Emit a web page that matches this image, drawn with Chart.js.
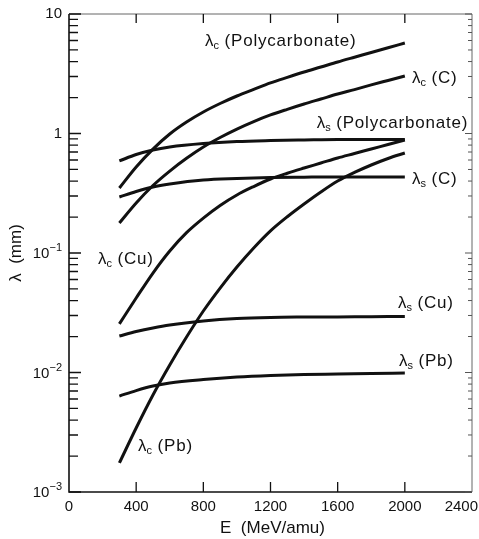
<!DOCTYPE html>
<html><head><meta charset="utf-8">
<script src="https://cdn.jsdelivr.net/npm/chart.js@4/dist/chart.umd.min.js"></script>
<style>html,body{margin:0;padding:0;background:#fff;overflow:hidden}#wrap{width:479px;height:539px;position:relative}</style>
</head><body><div id="wrap"><canvas id="c" width="479" height="539"></canvas></div>
<script>
// Energy grids (MeV/amu)
const energiesFine   = [300, 400, 500, 600, 700, 800, 900, 1000, 1100, 1200, 1300, 1400, 1500, 1600, 1700, 1800, 1900, 2000];
const energiesCoarse = [300, 400, 500, 600, 800, 1000, 1200, 1400, 1600, 1800, 2000];
// lambda_c values (mm), read on the fine grid
const lambdaCPoly = [0.350, 0.525, 0.741, 0.991, 1.248, 1.514, 1.782, 2.06, 2.34, 2.65, 2.95, 3.27, 3.60, 3.97, 4.35, 4.76, 5.22, 5.72];
const lambdaCC    = [0.178, 0.262, 0.367, 0.485, 0.620, 0.771, 0.926, 1.09, 1.259, 1.43, 1.594, 1.766, 1.944, 2.14, 2.33, 2.55, 2.78, 3.03];
const lambdaCCu   = [0.0255, 0.0420, 0.0680, 0.104, 0.148, 0.196, 0.250, 0.306, 0.360, 0.416, 0.465, 0.514, 0.566, 0.624, 0.680, 0.742, 0.809, 0.883];
const lambdaCPb   = [0.00175, 0.00343, 0.00648, 0.01156, 0.0198, 0.0327, 0.0509, 0.0763, 0.110, 0.153, 0.201, 0.257, 0.324, 0.400, 0.472, 0.545, 0.618, 0.687];
// lambda_s values (mm), read on the coarse grid
const lambdaSPoly = [0.589, 0.667, 0.728, 0.771, 0.824, 0.857, 0.873, 0.883, 0.891, 0.891, 0.891];
const lambdaSC    = [0.294, 0.327, 0.357, 0.378, 0.408, 0.420, 0.428, 0.431, 0.433, 0.433, 0.433];
const lambdaSCu   = [0.0202, 0.0220, 0.0236, 0.0250, 0.0270, 0.0283, 0.0289, 0.0291, 0.0292, 0.0293, 0.0294];
const lambdaSPb   = [0.00635, 0.00706, 0.00771, 0.00817, 0.00873, 0.00916, 0.00944, 0.00962, 0.00971, 0.00981, 0.0099];

const xTickValues = [0, 400, 800, 1200, 1600, 2000, 2400];
const yDecadeExponents = [-3, -2, -1, 0, 1];
const xTitle = 'E  (MeV/amu)';
const yTitle = 'λ  (mm)';

// curve labels: symbol, subscript, text, anchor E, anchor lambda
const labelSymbols = ['λ', 'λ', 'λ', 'λ', 'λ', 'λ', 'λ', 'λ'];
const labelSubs    = ['c', 'c', 's', 's', 'c', 's', 's', 'c'];
const labelTexts   = [' (Polycarbonate)', ' (C)', ' (Polycarbonate)', ' (C)', ' (Cu)', ' (Cu)', ' (Pb)', ' (Pb)'];
const labelE       = [810, 2043, 1475, 2043, 173, 1959, 1965, 411];
const labelLambda  = [6.05, 2.97, 1.25, 0.425, 0.0908, 0.0389, 0.01274, 0.00247];

const series = [
  [energiesFine, lambdaCPoly], [energiesFine, lambdaCC], [energiesFine, lambdaCCu], [energiesFine, lambdaCPb],
  [energiesCoarse, lambdaSPoly], [energiesCoarse, lambdaSC], [energiesCoarse, lambdaSCu], [energiesCoarse, lambdaSPb]
];

const FONT = '"Liberation Sans", Arial, Helvetica, sans-serif';
const INK = '#111';

const decorPlugin = {
  id: 'decor',
  afterDraw(chart) {
    const ctx = chart.ctx;
    const a = chart.chartArea;
    const xs = chart.scales.x, ys = chart.scales.y;
    ctx.save();
    ctx.strokeStyle = INK;
    ctx.fillStyle = INK;
    // frame: left & bottom solid, top & right lighter
    ctx.lineWidth = 1.6;
    ctx.beginPath();
    ctx.moveTo(a.left, a.top); ctx.lineTo(a.left, a.bottom); ctx.lineTo(a.right, a.bottom);
    ctx.stroke();
    ctx.strokeStyle = '#666';
    ctx.lineWidth = 1;
    ctx.beginPath();
    ctx.moveTo(a.left, a.top); ctx.lineTo(a.right, a.top); ctx.lineTo(a.right, a.bottom);
    ctx.stroke();
    // x ticks (inward, bottom and top)
    ctx.strokeStyle = INK;
    ctx.lineWidth = 1.3;
    ctx.beginPath();
    xTickValues.forEach(v => {
      const px = xs.getPixelForValue(v);
      if (v > xs.min && v < xs.max) {
        ctx.moveTo(px, a.bottom); ctx.lineTo(px, a.bottom - 10);
        ctx.moveTo(px, a.top); ctx.lineTo(px, a.top + 9);
      }
    });
    // y ticks (log, inward left)
    yDecadeExponents.forEach(e => {
      for (let m = 1; m <= 9; m++) {
        const v = m * Math.pow(10, e);
        if (v < ys.min * 0.999 || v > ys.max * 1.001) continue;
        const py = ys.getPixelForValue(v);
        const major = (m === 1);
        ctx.moveTo(a.left, py); ctx.lineTo(a.left + (major ? 12 : 9), py);
      }
    });
    ctx.stroke();
    // y ticks right side (short, lighter)
    ctx.strokeStyle = '#555';
    ctx.lineWidth = 1;
    ctx.beginPath();
    yDecadeExponents.forEach(e => {
      for (let m = 1; m <= 9; m++) {
        const v = m * Math.pow(10, e);
        if (v < ys.min * 0.999 || v > ys.max * 1.001) continue;
        const py = ys.getPixelForValue(v);
        const major = (m === 1);
        ctx.moveTo(a.right, py); ctx.lineTo(a.right - (major ? 7 : 4), py);
      }
    });
    ctx.stroke();

    // x tick labels
    ctx.fillStyle = INK;
    ctx.font = '15px ' + FONT;
    ctx.textBaseline = 'middle';
    xTickValues.forEach(v => {
      const px = xs.getPixelForValue(v);
      const w = ctx.measureText(String(v)).width;
      let cx = px;
      if (cx + w / 2 > chart.width - 1) cx = chart.width - 1 - w / 2;
      ctx.textAlign = 'center';
      ctx.fillText(String(v), cx, a.bottom + 15);
    });
    // x title
    ctx.textAlign = 'center';
    ctx.font = '17px ' + FONT;
    ctx.fillText(xTitle, (a.left + a.right) / 2 + 2, a.bottom + 36);

    // y tick labels with superscripts
    const rightX = a.left - 7;
    yDecadeExponents.forEach(e => {
      const py = ys.getPixelForValue(Math.pow(10, e));
      ctx.textAlign = 'right';
      ctx.textBaseline = 'middle';
      if (e === 0) {
        ctx.font = '15px ' + FONT;
        ctx.fillText('1', rightX, py);
      } else if (e === 1) {
        ctx.font = '15px ' + FONT;
        ctx.fillText('10', rightX, py);
      } else {
        const sup = '\u2212' + Math.abs(e);
        ctx.font = '11px ' + FONT;
        const sw = ctx.measureText(sup).width;
        ctx.fillText(sup, rightX, py - 5);
        ctx.font = '15px ' + FONT;
        ctx.fillText('10', rightX - sw, py + 1);
      }
    });

    // y title (rotated)
    ctx.save();
    ctx.translate(16, (a.top + a.bottom) / 2);
    ctx.rotate(-Math.PI / 2);
    ctx.textAlign = 'center';
    ctx.textBaseline = 'middle';
    ctx.font = '17px ' + FONT;
    ctx.fillText(yTitle, 0, 0);
    ctx.restore();

    // curve labels
    ctx.textAlign = 'left';
    ctx.textBaseline = 'alphabetic';
    for (let i = 0; i < labelTexts.length; i++) {
      let x = xs.getPixelForValue(labelE[i]);
      const base = ys.getPixelForValue(labelLambda[i]) + 6;
      ctx.font = '17px ' + FONT;
      ctx.fillText(labelSymbols[i], x, base);
      x += ctx.measureText(labelSymbols[i]).width;
      ctx.font = '11px ' + FONT;
      ctx.fillText(labelSubs[i], x, base + 3);
      x += ctx.measureText(labelSubs[i]).width;
      ctx.font = '17px ' + FONT;
      if ('letterSpacing' in ctx) ctx.letterSpacing = '0.8px';
      ctx.fillText(labelTexts[i], x, base);
      if ('letterSpacing' in ctx) ctx.letterSpacing = '0px';
    }
    ctx.restore();
  }
};

new Chart(document.getElementById('c'), {
  type: 'line',
  data: {
    datasets: series.map(([xsArr, ysArr]) => ({
      data: xsArr.map((e, i) => ({ x: e, y: ysArr[i] })),
      borderColor: INK,
      borderWidth: 3,
      pointRadius: 0,
      fill: false,
      cubicInterpolationMode: 'monotone'
    }))
  },
  options: {
    responsive: false,
    animation: false,
    devicePixelRatio: 1,
    layout: { padding: { left: 0, right: 7, top: 14, bottom: 0 } },
    plugins: { legend: { display: false }, tooltip: { enabled: false } },
    scales: {
      x: {
        type: 'linear', min: 0, max: 2400,
        ticks: { display: false }, grid: { display: false }, border: { display: false },
        afterFit: s => { s.height = 47; }
      },
      y: {
        type: 'logarithmic', min: 0.001, max: 10,
        ticks: { display: false }, grid: { display: false }, border: { display: false },
        afterFit: s => { s.width = 69; }
      }
    }
  },
  plugins: [decorPlugin]
});
</script>
</body></html>
